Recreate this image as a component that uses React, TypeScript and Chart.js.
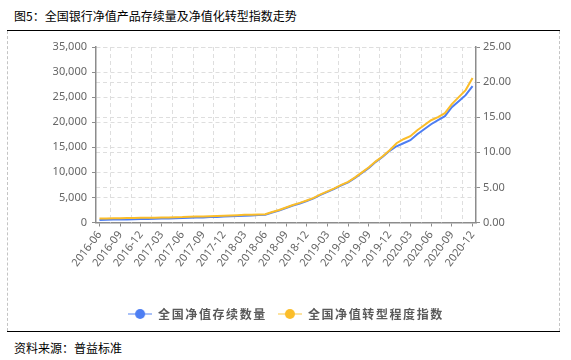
import React, { useEffect, useRef } from 'react';
import { Chart, registerables } from 'chart.js';

Chart.register(...registerables);

const titleText = '图5：全国银行净值产品存续量及净值化转型指数走势';
const sourceText = '资料来源：普益标准';
const seriesNames = ['全国净值存续数量', '全国净值转型程度指数'];

const months = [
  '2016-06', '2016-07', '2016-08', '2016-09', '2016-10', '2016-11', '2016-12',
  '2017-01', '2017-02', '2017-03', '2017-04', '2017-05', '2017-06', '2017-07', '2017-08', '2017-09', '2017-10', '2017-11', '2017-12',
  '2018-01', '2018-02', '2018-03', '2018-04', '2018-05', '2018-06', '2018-07', '2018-08', '2018-09', '2018-10', '2018-11', '2018-12',
  '2019-01', '2019-02', '2019-03', '2019-04', '2019-05', '2019-06', '2019-07', '2019-08', '2019-09', '2019-10', '2019-11', '2019-12',
  '2020-01', '2020-02', '2020-03', '2020-04', '2020-05', '2020-06', '2020-07', '2020-08', '2020-09', '2020-10', '2020-11', '2020-12',
];

const productCount = [
  520, 540, 580, 600, 620, 640, 680, 700, 740, 780,
  800, 840, 880, 940, 980, 1020, 1080, 1120, 1180, 1240,
  1300, 1360, 1420, 1480, 1560, 2000, 2400, 2900, 3400, 3800,
  4300, 4800, 5500, 6100, 6700, 7400, 8000, 8900, 9900, 10900,
  12100, 13100, 14300, 15200, 15800, 16400, 17600, 18600, 19600, 20400,
  21200, 23000, 24200, 25400, 27200,
];

const transformIndex = [
  0.57, 0.57, 0.60, 0.61, 0.63, 0.64, 0.66, 0.67, 0.69, 0.71,
  0.73, 0.76, 0.77, 0.81, 0.84, 0.87, 0.90, 0.93, 0.97, 1.00,
  1.04, 1.09, 1.11, 1.14, 1.19, 1.50, 1.79, 2.14, 2.50, 2.79,
  3.14, 3.50, 4.00, 4.43, 4.86, 5.36, 5.79, 6.43, 7.14, 7.86,
  8.71, 9.43, 10.29, 11.29, 11.86, 12.29, 13.14, 13.86, 14.57, 15.00,
  15.57, 16.86, 17.86, 18.86, 20.57,
];

const leftAxis = { min: 0, max: 35000, step: 5000 };
const rightAxis = { min: 0, max: 25, step: 5 };
const labelEvery = 3;

const BLUE = '#4d7ef3';
const BLUE_LIGHT = '#a9c1f8';
const YELLOW = '#fbbd29';
const YELLOW_LIGHT = '#fde3a0';
const AXIS = '#8c8c8c';
const GRID = '#dedede';
const TICK_TEXT = '#666666';
const FONT = "'Noto Sans', 'Noto Sans CJK SC', sans-serif";
const CJK = "'Noto Sans CJK SC', sans-serif";
const LEGEND_SPACING = '1.6px';

function legendIcon(line: string, dot: string) {
  const c = document.createElement('canvas');
  c.width = 24;
  c.height = 12;
  const g = c.getContext('2d')!;
  g.strokeStyle = line;
  g.lineWidth = 2;
  g.beginPath();
  g.moveTo(0, 6);
  g.lineTo(24, 6);
  g.stroke();
  g.fillStyle = dot;
  g.beginPath();
  g.arc(12, 6, 5, 0, Math.PI * 2);
  g.fill();
  return c;
}

const vGridPlugin = {
  id: 'vgrid',
  beforeDatasetsDraw(chart: any) {
    const xs = chart.scales.x;
    const { top, bottom } = chart.chartArea;
    const ctx = chart.ctx;
    ctx.save();
    ctx.strokeStyle = GRID;
    ctx.lineWidth = 1;
    ctx.setLineDash([4, 3]);
    for (let i = 0; i + labelEvery < months.length; i += labelEvery) {
      const px = Math.round((xs.getPixelForValue(i) + xs.getPixelForValue(i + labelEvery)) / 2) + 0.5;
      ctx.beginPath();
      ctx.moveTo(px, top);
      ctx.lineTo(px, bottom);
      ctx.stroke();
    }
    ctx.restore();
  },
};

const legendSpacingPlugin = {
  id: 'legendSpacing',
  beforeLayout(chart: any) {
    const lg = chart.legend;
    if (!lg || lg.__spaced) return;
    lg.__spaced = true;
    const origFit = lg.fit;
    const origDraw = lg.draw;
    lg.fit = function (...args: any[]) {
      const c = this.ctx as any;
      const prev = c.letterSpacing;
      c.letterSpacing = LEGEND_SPACING;
      const r = origFit.apply(this, args);
      c.letterSpacing = prev;
      return r;
    };
    lg.draw = function (...args: any[]) {
      const c = this.ctx as any;
      c.save();
      c.letterSpacing = LEGEND_SPACING;
      const r = origDraw.apply(this, args);
      c.restore();
      return r;
    };
  },
};

function ChartBox() {
  const ref = useRef<HTMLCanvasElement | null>(null);
  useEffect(() => {
    if (!ref.current) return;
    const chart = new Chart(ref.current, {
      type: 'line',
      data: {
        labels: months,
        datasets: [
          {
            label: seriesNames[0],
            data: productCount,
            yAxisID: 'y',
            borderColor: BLUE,
            backgroundColor: BLUE,
            borderWidth: 2,
            pointRadius: 0,
            pointHoverRadius: 0,
            pointStyle: legendIcon(BLUE_LIGHT, BLUE) as any,
            tension: 0,
            order: 1,
          },
          {
            label: seriesNames[1],
            data: transformIndex,
            yAxisID: 'y1',
            borderColor: YELLOW,
            backgroundColor: YELLOW,
            borderWidth: 2,
            pointRadius: 0,
            pointHoverRadius: 0,
            pointStyle: legendIcon(YELLOW_LIGHT, YELLOW) as any,
            tension: 0,
            order: 0,
          },
        ],
      },
      options: {
        responsive: false,
        animation: false,
        events: [],
        layout: { padding: { top: 15, left: 0, right: 0, bottom: 0 } },
        plugins: {
          tooltip: { enabled: false },
          legend: {
            position: 'bottom',
            fullSize: false,
            labels: {
              usePointStyle: true,
              pointStyleWidth: 24,
              padding: 11,
              color: '#5a5a5a',
              font: { family: CJK, size: 12, weight: 'bold' },
              sort: (a: any, b: any) => a.datasetIndex - b.datasetIndex,
            },
          },
        },
        scales: {
          x: {
            type: 'category',
            offset: true,
            afterFit: (s: any) => { s.height = 74.5; },
            grid: {
              display: true,
              drawOnChartArea: false,
              drawTicks: true,
              tickLength: 4,
              tickColor: AXIS,
              offset: false,
            },
            border: { display: true, color: AXIS, width: 1.5 },
            ticks: {
              autoSkip: false,
              minRotation: 53,
              maxRotation: 53,
              padding: 2,
              color: TICK_TEXT,
              font: { family: FONT, size: 11 },
              callback: (_v: any, i: number) => (i % labelEvery === 0 ? months[i] : null),
            },
          },
          y: {
            type: 'linear',
            position: 'left',
            min: leftAxis.min,
            max: leftAxis.max,
            afterFit: (s: any) => { s.width = 88; },
            grid: {
              color: GRID,
              lineWidth: 1,
              drawTicks: true,
              tickLength: 4,
              tickColor: AXIS,
              tickBorderDash: [],
            },
            border: { display: true, color: AXIS, width: 1.5, dash: [4, 3] },
            ticks: {
              stepSize: leftAxis.step,
              padding: 5,
              color: TICK_TEXT,
              font: { family: FONT, size: 11 },
            },
          },
          y1: {
            type: 'linear',
            position: 'right',
            min: rightAxis.min,
            max: rightAxis.max,
            afterFit: (s: any) => { s.width = 82; },
            grid: {
              color: GRID,
              lineWidth: 1,
              drawTicks: true,
              tickLength: 4,
              tickColor: AXIS,
              tickBorderDash: [],
            },
            border: { display: true, color: AXIS, width: 1.5, dash: [4, 3] },
            ticks: {
              stepSize: rightAxis.step,
              padding: 3,
              color: TICK_TEXT,
              font: { family: FONT, size: 11 },
              callback: (v: any) => Number(v).toFixed(2),
            },
          },
        },
      } as any,
      plugins: [vGridPlugin, legendSpacingPlugin],
    });
    return () => chart.destroy();
  }, []);
  return <canvas ref={ref} width={550} height={298} style={{ display: 'block', width: 550, height: 298 }} />;
}

export default function App() {
  const abs = { position: 'absolute' as const };
  return (
    <div style={{ position: 'absolute', left: 0, top: 0, width: 571, height: 360, background: '#fff', overflow: 'hidden' }}>
      <div style={{ ...abs, left: 14, top: 8, fontSize: 12, lineHeight: '16px', fontFamily: CJK, color: '#000', whiteSpace: 'nowrap' }}>
        {titleText}
      </div>
      <div style={{ ...abs, left: 8, top: 32, width: 550, height: 298 }}>
        <ChartBox />
      </div>
      <div style={{ ...abs, left: 7, top: 30, width: 553, height: 1, background: '#000' }} />
      <div style={{ ...abs, left: 7, top: 31, width: 0, height: 300, borderLeft: '1px dashed #c4c4c4' }} />
      <div style={{ ...abs, left: 559, top: 31, width: 0, height: 300, borderLeft: '1px dashed #c4c4c4' }} />
      <div style={{ ...abs, left: 7, top: 331, width: 553, height: 1, background: '#000' }} />
      <div style={{ ...abs, left: 14, top: 340, fontSize: 12, lineHeight: '16px', fontFamily: CJK, color: '#000', whiteSpace: 'nowrap' }}>
        {sourceText}
      </div>
    </div>
  );
}
